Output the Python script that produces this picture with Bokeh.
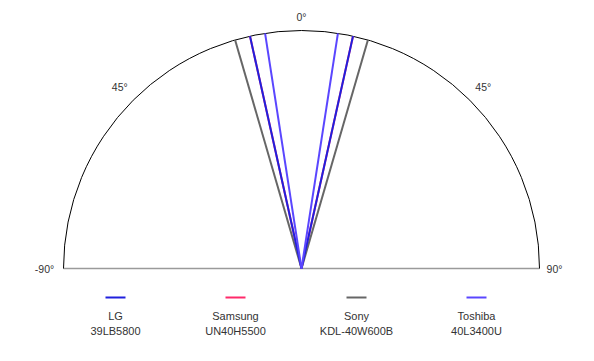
import math
from bokeh.plotting import figure
from bokeh.models import Range1d
from bokeh.core.properties import value
from bokeh.embed import file_html
from bokeh.resources import INLINE

# Data
brands = ["LG", "Samsung", "Sony", "Toshiba"]
models = ["39LB5800", "UN40H5500", "KDL-40W600B", "40L3400U"]
angles = [12.5, 12.5, 16.2, 8.8]  # half viewing angle, degrees
colors = ["#2020dd", "#ff2a6a", "#666666", "#5a46ff"]
tick_angles = [-90, -45, 0, 45, 90]
tick_labels = ["-90°", "-45°", "0°", "45°", "90°"]

R = 238.0
W, H = 578, 345
p = figure(width=W, height=H, output_backend="svg", toolbar_location=None,
           x_range=Range1d(-301, 277), y_range=Range1d(-77, 268),
           min_border=0)
p.axis.visible = False
p.grid.visible = False
p.outline_line_color = None
p.background_fill_color = "white"

# baseline
p.segment(x0=[-R], y0=[0], x1=[R], y1=[0], line_color="#9a9a9a", line_width=1.5)
# arc
p.arc(x=0, y=0, radius=R, start_angle=0, end_angle=math.pi, line_color="black", line_width=1)

# rays (Samsung hidden beneath LG)
order = [1, 2, 0, 3]
for i in order:
    a = math.radians(angles[i])
    xs = [R * math.sin(-a), R * math.sin(a)]
    ys = [R * math.cos(a), R * math.cos(a)]
    p.segment(x0=[0, 0], y0=[0, 0], x1=xs, y1=ys, line_color=colors[i], line_width=2)

# tick labels
FONT = value("Liberation Sans")
for ang, lab in zip(tick_angles, tick_labels):
    if abs(ang) == 90:
        x = -257 if ang < 0 else 253
        y = 0
        txt = lab
    else:
        r = 252 if ang == 0 else 257
        x = r * math.sin(math.radians(ang))
        y = r * math.cos(math.radians(ang))
        txt = lab.replace("-", "")
    p.text(x=[x], y=[y], text=[txt], text_font=FONT, text_font_size="10.5px",
           text_color="#333333", text_align="center", text_baseline="middle")

# legend
leg_x = [-186, -66, 55, 175]
for i in range(4):
    cx = leg_x[i]
    p.segment(x0=[cx - 10], y0=[-29], x1=[cx + 10], y1=[-29], line_color=colors[i], line_width=2)
    p.text(x=[cx], y=[-47], text=[brands[i]], text_font=FONT, text_font_size="11px",
           text_color="#333333", text_align="center", text_baseline="middle")
    p.text(x=[cx], y=[-62], text=[models[i]], text_font=FONT, text_font_size="11px",
           text_color="#333333", text_align="center", text_baseline="middle")

open("out.html", "w").write(file_html(p, INLINE))
